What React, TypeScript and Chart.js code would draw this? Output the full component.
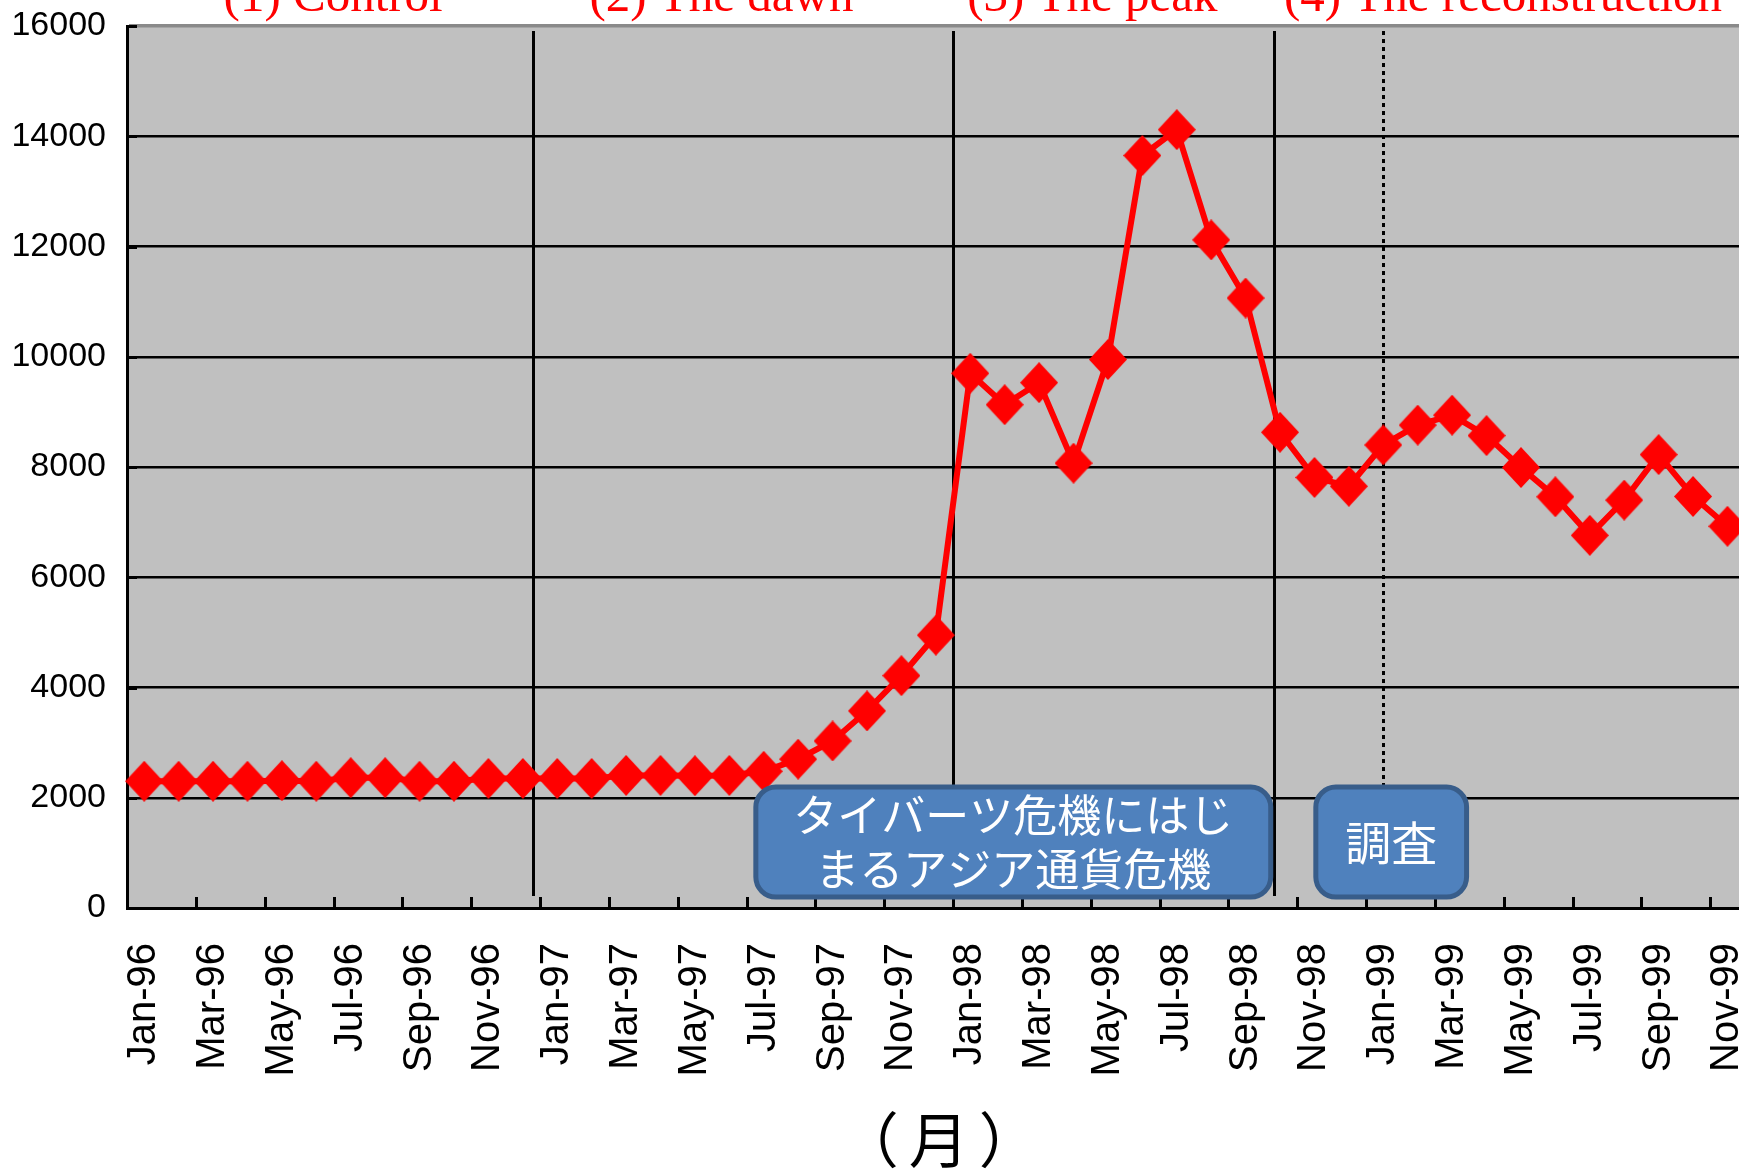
import React, { useEffect, useRef } from 'react';
import { Chart, registerables } from 'chart.js';

Chart.register(...registerables);

// ---- data ----
const categories: string[] = [
  'Jan-96', 'Feb-96', 'Mar-96', 'Apr-96', 'May-96', 'Jun-96', 'Jul-96', 'Aug-96', 'Sep-96', 'Oct-96', 'Nov-96', 'Dec-96',
  'Jan-97', 'Feb-97', 'Mar-97', 'Apr-97', 'May-97', 'Jun-97', 'Jul-97', 'Aug-97', 'Sep-97', 'Oct-97', 'Nov-97', 'Dec-97',
  'Jan-98', 'Feb-98', 'Mar-98', 'Apr-98', 'May-98', 'Jun-98', 'Jul-98', 'Aug-98', 'Sep-98', 'Oct-98', 'Nov-98', 'Dec-98',
  'Jan-99', 'Feb-99', 'Mar-99', 'Apr-99', 'May-99', 'Jun-99', 'Jul-99', 'Aug-99', 'Sep-99', 'Oct-99', 'Nov-99',
];

const values: number[] = [
  2300, 2300, 2300, 2300, 2310, 2300, 2365, 2365, 2300, 2300, 2350, 2350,
  2350, 2350, 2405, 2405, 2400, 2405, 2480, 2700, 3030, 3575, 4215, 4950,
  9700, 9130, 9530, 8070, 9950, 13650, 14120, 12120, 11065, 8630, 7810, 7650,
  8400, 8760, 8940, 8570, 7990, 7460, 6760, 7400, 8225, 7465, 6925,
];

const yTicks: number[] = [0, 2000, 4000, 6000, 8000, 10000, 12000, 14000, 16000];

const phaseLabels: string[] = ['(1) Control', '(2) The dawn', '(3) The peak', '(4) The reconstruction'];
const phaseLabelCenters: number[] = [5.49, 16.77, 27.55, 39.48]; // category index units
const phaseDividers: number[] = [11.3, 23.5, 32.82]; // category index units
const surveyMarker = 36; // Jan-99
const dividerTopValue = 15909;
const dividerBottomValue = 217;

const noteBoxes = [
  { lines: ['タイバーツ危機にはじ', 'まるアジア通貨危機'], x0: 17.77, x1: 32.73, yTop: 2193, yBottom: 199, size: 44 },
  { lines: ['調査'], x0: 34.04, x1: 38.42, yTop: 2193, yBottom: 199, size: 46 },
];

const xAxisTitle = '（月）';

// ---- styles ----
const RED = '#FF0000';
const PLOT_BG = '#C0C0C0';
const BOX_FILL = '#4F81BD';
const BOX_STROKE = '#385D8A';
const CANVAS_W = 1811;
const CANVAS_H = 1229;
const TOP_SHIFT = 60;
const SANS = '"Liberation Sans", Arial, sans-serif';
const CJK = '"Noto Sans CJK JP", sans-serif';

function makeDiamond(w: number, h: number, color: string): HTMLCanvasElement {
  const c = document.createElement('canvas');
  c.width = w;
  c.height = h;
  const g = c.getContext('2d')!;
  g.fillStyle = color;
  g.beginPath();
  g.moveTo(w / 2, 0);
  g.lineTo(w, h / 2);
  g.lineTo(w / 2, h);
  g.lineTo(0, h / 2);
  g.closePath();
  g.fill();
  return c;
}

function roundRectPath(ctx: CanvasRenderingContext2D, x: number, y: number, w: number, h: number, r: number) {
  ctx.beginPath();
  ctx.moveTo(x + r, y);
  ctx.lineTo(x + w - r, y);
  ctx.arcTo(x + w, y, x + w, y + r, r);
  ctx.lineTo(x + w, y + h - r);
  ctx.arcTo(x + w, y + h, x + w - r, y + h, r);
  ctx.lineTo(x + r, y + h);
  ctx.arcTo(x, y + h, x, y + h - r, r);
  ctx.lineTo(x, y + r);
  ctx.arcTo(x, y, x + r, y, r);
  ctx.closePath();
}

const decorPlugin = {
  id: 'decor',
  beforeDraw(chart: any) {
    const { ctx, chartArea: a } = chart;
    ctx.save();
    ctx.fillStyle = PLOT_BG;
    ctx.fillRect(a.left, a.top, a.right - a.left, a.bottom - a.top);
    ctx.restore();
  },
  beforeDatasetsDraw(chart: any) {
    const { ctx, chartArea: a, scales } = chart;
    const xs = scales.x;
    const ys = scales.y;
    ctx.save();
    ctx.strokeStyle = '#000';
    ctx.lineWidth = 3;
    // inner tick marks on x axis, every two categories
    for (let i = 0; i < categories.length; i += 2) {
      const x = Math.round(xs.getPixelForValue(i - 0.5)) + 0.5;
      ctx.beginPath();
      ctx.moveTo(x, a.bottom);
      ctx.lineTo(x, a.bottom - 11);
      ctx.stroke();
    }
    // inner tick marks on y axis
    for (const v of yTicks) {
      const y = Math.round(ys.getPixelForValue(v)) + 0.5;
      ctx.beginPath();
      ctx.moveTo(a.left, y);
      ctx.lineTo(a.left + 10, y);
      ctx.stroke();
    }
    // phase dividers
    const yTop = ys.getPixelForValue(dividerTopValue);
    const yBot = ys.getPixelForValue(dividerBottomValue);
    for (const d of phaseDividers) {
      const x = Math.round(xs.getPixelForValue(d)) + 0.5;
      ctx.beginPath();
      ctx.moveTo(x, yTop);
      ctx.lineTo(x, yBot);
      ctx.stroke();
    }
    // dotted survey marker
    const xd = Math.round(xs.getPixelForValue(surveyMarker)) + 0.5;
    ctx.setLineDash([4, 4]);
    ctx.beginPath();
    ctx.moveTo(xd, yTop);
    ctx.lineTo(xd, ys.getPixelForValue(noteBoxes[1].yTop));
    ctx.stroke();
    ctx.restore();
  },
  afterDatasetsDraw(chart: any) {
    const { ctx, scales } = chart;
    const xs = scales.x;
    const ys = scales.y;
    ctx.save();
    for (const b of noteBoxes) {
      const x0 = xs.getPixelForValue(b.x0);
      const x1 = xs.getPixelForValue(b.x1);
      const y0 = ys.getPixelForValue(b.yTop);
      const y1 = ys.getPixelForValue(b.yBottom);
      roundRectPath(ctx, x0, y0, x1 - x0, y1 - y0, 20);
      ctx.fillStyle = BOX_FILL;
      ctx.fill();
      ctx.lineWidth = 5;
      ctx.strokeStyle = BOX_STROKE;
      ctx.stroke();
      ctx.fillStyle = '#FFFFFF';
      ctx.font = `${b.size}px ${CJK}`;
      ctx.textAlign = 'center';
      ctx.textBaseline = 'middle';
      const cx = (x0 + x1) / 2;
      const cy = (y0 + y1) / 2;
      const lh = 54;
      b.lines.forEach((t, k) => {
        const y = cy + (k - (b.lines.length - 1) / 2) * lh;
        ctx.fillText(t, cx, y);
      });
    }
    ctx.restore();
  },
  afterDraw(chart: any) {
    const { ctx, chartArea: a, scales } = chart;
    const xs = scales.x;
    ctx.save();
    ctx.fillStyle = RED;
    ctx.font = `49px "Liberation Serif", "Times New Roman", serif`;
    ctx.textAlign = 'center';
    ctx.textBaseline = 'alphabetic';
    phaseLabels.forEach((t, k) => {
      ctx.fillText(t, xs.getPixelForValue(phaseLabelCenters[k]), TOP_SHIFT + 11);
    });
    ctx.fillStyle = '#000';
    ctx.font = `60px ${CJK}`;
    (ctx as any).letterSpacing = '10px';
    ctx.fillText(xAxisTitle, (a.left + a.right) / 2 + 8, TOP_SHIFT + 1163);
    ctx.restore();
  },
};

export default function App() {
  const ref = useRef<HTMLCanvasElement>(null);
  useEffect(() => {
    const canvas = ref.current;
    if (!canvas) return;
    const diamond = makeDiamond(38, 41, RED);
    const chart = new Chart(canvas, {
      type: 'line',
      data: {
        labels: categories,
        datasets: [
          {
            data: values,
            borderColor: RED,
            backgroundColor: RED,
            borderWidth: 6,
            pointStyle: diamond as any,
            pointRadius: 19,
            pointHoverRadius: 19,
            tension: 0,
            clip: false as any,
          },
        ],
      },
      options: {
        responsive: false,
        animation: false,
        devicePixelRatio: 1,
        layout: { padding: { top: TOP_SHIFT + 26, left: 0, right: 50, bottom: 0 } },
        plugins: { legend: { display: false }, tooltip: { enabled: false } },
        scales: {
          x: {
            type: 'category',
            offset: true,
            grid: { display: false, drawTicks: false },
            border: { display: true, color: '#000', width: 3 },
            ticks: {
              autoSkip: false,
              maxRotation: 90,
              minRotation: 90,
              padding: 35,
              color: '#000',
              font: { family: SANS, size: 40 },
              callback: (_v: any, i: number) => (i % 2 === 0 ? categories[i] : ''),
            },
            afterFit: (s: any) => {
              s.height = CANVAS_H - (TOP_SHIFT + 908);
            },
          },
          y: {
            min: 0,
            max: 16000,
            afterBuildTicks: (s: any) => {
              s.ticks = yTicks.map((v) => ({ value: v }));
            },
            grid: {
              drawTicks: false,
              color: (c: any) => (c.tick && c.tick.value === 16000 ? '#8A8A8A' : '#000'),
              lineWidth: (c: any) => (c.tick && c.tick.value === 16000 ? 3.5 : 2.5),
            },
            border: { display: true, color: '#000', width: 3 },
            ticks: {
              padding: 21,
              color: '#000',
              font: { family: SANS, size: 34 },
              callback: (v: any) => String(v),
            },
            afterFit: (s: any) => {
              s.width = 127;
            },
          },
        },
      },
      plugins: [decorPlugin],
    });
    return () => chart.destroy();
  }, []);

  return (
    <div
      style={{
        position: 'absolute',
        left: 0,
        top: 0,
        width: 1739,
        height: 1169,
        overflow: 'hidden',
        background: '#fff',
      }}
    >
      <canvas
        ref={ref}
        width={CANVAS_W}
        height={CANVAS_H}
        style={{ position: 'absolute', left: 0, top: -TOP_SHIFT, width: CANVAS_W, height: CANVAS_H }}
      />
    </div>
  );
}
